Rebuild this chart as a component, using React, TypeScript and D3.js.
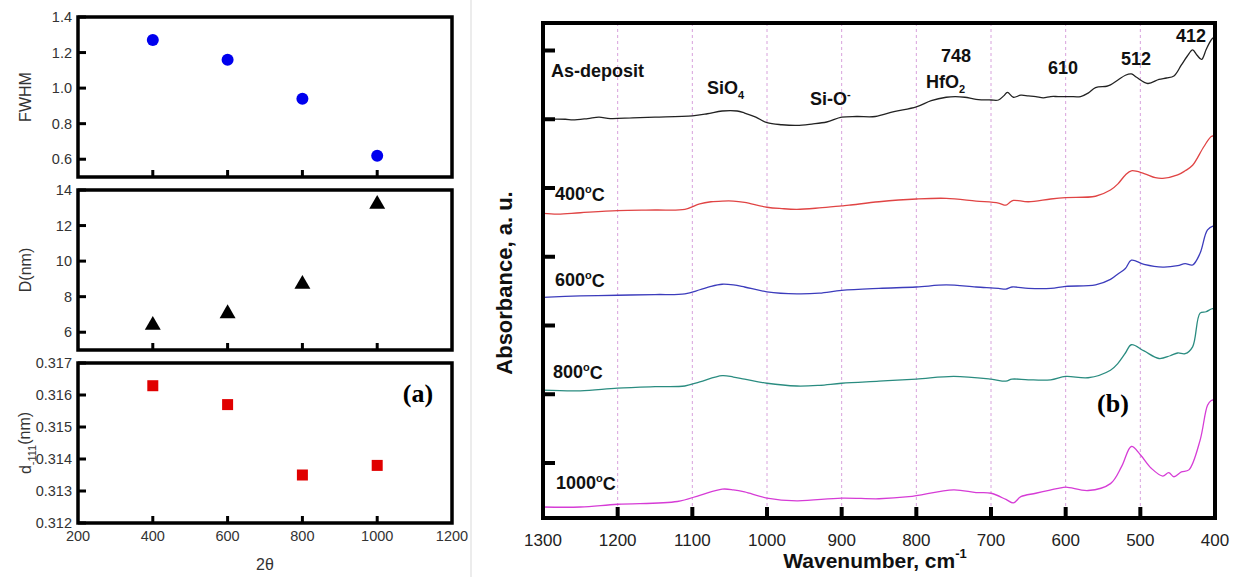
import React from 'react';
import * as d3 from 'd3';

// ---- data: panel (a) ----
const twoTheta = [400, 600, 800, 1000];
const fwhm = [1.27, 1.16, 0.94, 0.62];
const crystalD = [6.4, 7.05, 8.7, 13.2];
const dSpacing = [0.31629, 0.3157, 0.3135, 0.3138];

const leftXTicks = [200, 400, 600, 800, 1000, 1200];
const fwhmTicks = [0.6, 0.8, 1.0, 1.2, 1.4];
const dTicks = [6, 8, 10, 12, 14];
const spacingTicks = [0.312, 0.313, 0.314, 0.315, 0.316, 0.317];

// ---- data: panel (b) FTIR spectra [wavenumber, absorbance] ----
const asDeposit: [number, number][] = [
  [1300, 6.0], [1270, 6.0], [1260, 5.99], [1240, 6.01], [1225, 6.03], [1210, 6.01], [1180, 6.02],
  [1150, 6.03], [1100, 6.05], [1080, 6.08], [1060, 6.12], [1040, 6.12], [1030, 6.09], [1015, 6.03],
  [1000, 5.95], [980, 5.92], [960, 5.91], [940, 5.93], [920, 5.96], [900, 6.03], [880, 6.04],
  [855, 6.04], [830, 6.11], [800, 6.18], [780, 6.27], [760, 6.32], [748, 6.33], [735, 6.32],
  [720, 6.29], [700, 6.28], [690, 6.28], [683, 6.34], [678, 6.39], [670, 6.32], [660, 6.35],
  [650, 6.34], [640, 6.33], [630, 6.31], [620, 6.33], [610, 6.33], [595, 6.33], [580, 6.33],
  [570, 6.38], [560, 6.46], [545, 6.48], [540, 6.5], [530, 6.57], [520, 6.64], [512, 6.66],
  [505, 6.61], [490, 6.52], [475, 6.58], [465, 6.6], [455, 6.63], [445, 6.79], [437, 6.92],
  [430, 7.01], [424, 6.93], [418, 6.87], [412, 7.01], [408, 7.1], [403, 7.18], [400, 7.18],
];
const t400: [number, number][] = [
  [1300, 4.63], [1280, 4.62], [1250, 4.64], [1200, 4.67], [1150, 4.68], [1110, 4.69], [1090, 4.77],
  [1075, 4.8], [1060, 4.81], [1045, 4.81], [1030, 4.79], [1000, 4.72], [980, 4.7], [960, 4.69],
  [930, 4.71], [900, 4.74], [890, 4.75], [850, 4.8], [800, 4.84], [760, 4.85], [720, 4.81],
  [690, 4.78], [680, 4.75], [675, 4.79], [670, 4.82], [650, 4.8], [620, 4.84], [600, 4.86],
  [560, 4.88], [540, 4.97], [530, 5.06], [520, 5.19], [512, 5.25], [495, 5.21], [480, 5.15],
  [470, 5.14], [450, 5.19], [440, 5.25], [430, 5.33], [415, 5.6], [405, 5.75], [400, 5.76],
];
const t600: [number, number][] = [
  [1300, 3.41], [1250, 3.43], [1200, 3.44], [1150, 3.45], [1110, 3.46], [1090, 3.52], [1075, 3.57],
  [1060, 3.6], [1045, 3.59], [1030, 3.56], [1000, 3.49], [960, 3.46], [930, 3.47], [900, 3.51],
  [850, 3.54], [800, 3.56], [760, 3.59], [720, 3.56], [690, 3.54], [680, 3.53], [672, 3.56],
  [650, 3.54], [620, 3.54], [600, 3.57], [560, 3.59], [540, 3.67], [530, 3.75], [520, 3.83],
  [512, 3.95], [495, 3.89], [470, 3.85], [450, 3.87], [440, 3.9], [430, 3.88], [420, 4.05],
  [410, 4.39], [400, 4.46],
];
const t800: [number, number][] = [
  [1300, 2.06], [1250, 2.05], [1200, 2.09], [1150, 2.11], [1110, 2.12], [1090, 2.18], [1060, 2.27],
  [1045, 2.25], [1030, 2.22], [1000, 2.16], [960, 2.12], [930, 2.13], [900, 2.16], [850, 2.19],
  [800, 2.22], [750, 2.26], [700, 2.22], [680, 2.19], [672, 2.22], [650, 2.21], [620, 2.21],
  [600, 2.26], [570, 2.24], [540, 2.35], [530, 2.45], [520, 2.6], [512, 2.72], [495, 2.63],
  [475, 2.52], [460, 2.56], [450, 2.6], [440, 2.59], [430, 2.69], [420, 3.18], [412, 3.2],
  [405, 3.24], [400, 3.25],
];
const t1000: [number, number][] = [
  [1300, 0.36], [1250, 0.36], [1200, 0.4], [1120, 0.44], [1090, 0.53], [1060, 0.62], [1045, 0.61],
  [1030, 0.58], [1000, 0.49], [960, 0.45], [900, 0.49], [850, 0.48], [810, 0.51], [750, 0.61],
  [720, 0.57], [700, 0.56], [680, 0.47], [670, 0.42], [660, 0.51], [640, 0.56], [610, 0.63],
  [600, 0.65], [570, 0.6], [540, 0.7], [525, 0.95], [512, 1.24], [500, 1.12], [485, 0.92],
  [470, 0.81], [462, 0.86], [455, 0.8], [445, 0.87], [435, 0.9], [420, 1.33], [410, 1.84],
  [405, 1.91], [400, 1.92],
];

const spectra = [
  { name: 'As-deposit', data: asDeposit, color: '#222222' },
  { name: '400°C', data: t400, color: '#e04444' },
  { name: '600°C', data: t600, color: '#3c3cbc' },
  { name: '800°C', data: t800, color: '#2a8c80' },
  { name: '1000°C', data: t1000, color: '#d63cd6' },
];

const waveTicks = [1300, 1200, 1100, 1000, 900, 800, 700, 600, 500, 400];
const absTicks = [1, 2, 3, 4, 5, 6, 7];

const leftFont = '"Liberation Sans", Arial, sans-serif';

type SubProps = {
  top: number;
  bottom: number;
  domain: [number, number];
  ticks: number[];
  fmt: (v: number) => string;
  values: number[];
  label: React.ReactNode;
  marker: 'circle' | 'triangle' | 'square';
  showX: boolean;
};

const xA = d3.scaleLinear().domain([200, 1200]).range([78, 452]);

function SubPlot({ top, bottom, domain, ticks, fmt, values, label, marker, showX }: SubProps) {
  const y = d3.scaleLinear().domain(domain).range([bottom, top]);
  const tri = d3.symbol().type(d3.symbolTriangle).size(110)();
  const mid = (top + bottom) / 2;
  return (
    <g>
      <rect x={78} y={top} width={374} height={bottom - top} fill="none" stroke="#000" strokeWidth={3.5} />
      {ticks.map((t) => (
        <g key={t}>
          <line x1={78} x2={86} y1={y(t)} y2={y(t)} stroke="#000" strokeWidth={3} />
          <text x={72} y={y(t)} dy="0.35em" textAnchor="end" fontSize={14.5} fill="#333" fontFamily={leftFont}>
            {fmt(t)}
          </text>
        </g>
      ))}
      {twoTheta.map((t) => (
        <line key={t} x1={xA(t)} x2={xA(t)} y1={bottom} y2={bottom - 7} stroke="#000" strokeWidth={3} />
      ))}
      {showX &&
        leftXTicks.map((t) => (
          <text key={t} x={xA(t)} y={541} textAnchor="middle" fontSize={14.5} fill="#333" fontFamily={leftFont}>
            {t}
          </text>
        ))}
      {values.map((v, i) => {
        const cx = xA(twoTheta[i]);
        const cy = y(v);
        if (marker === 'circle') return <circle key={i} cx={cx} cy={cy} r={6} fill="#0000ee" />;
        if (marker === 'triangle') return <path key={i} d={tri || ''} transform={`translate(${cx},${cy})`} fill="#000" />;
        return <rect key={i} x={cx - 5.5} y={cy - 5.5} width={11} height={11} fill="#e00000" />;
      })}
      <text
        transform={`translate(31,${mid}) rotate(-90)`}
        textAnchor="middle"
        fontSize={16}
        fill="#333"
        fontFamily={leftFont}
      >
        {label}
      </text>
    </g>
  );
}

export default function App() {
  const x = d3.scaleLinear().domain([1300, 400]).range([543, 1215]);
  const y = d3.scaleLinear().domain([0.2, 7.4]).range([518, 23]);
  const line = d3
    .line<[number, number]>()
    .x((d) => x(d[0]))
    .y((d) => y(d[1]))
    .curve(d3.curveCatmullRom.alpha(0.5));

  const labelFont = '"Liberation Sans", Arial, sans-serif';
  const anno = { fontSize: 18, fontWeight: 700, fontFamily: labelFont, fill: '#111' } as const;
  const degLabel = (name: string, lx: number, ly: number) => {
    const [num] = name.split('°');
    return (
      <text key={name} x={lx} y={ly} dy="0.35em" {...anno}>
        {num}
        <tspan fontSize={11} dy="-0.7em">o</tspan>
        <tspan dy="0.45em">C</tspan>
      </text>
    );
  };

  return (
    <svg width={1241} height={577} style={{ position: 'absolute', left: 0, top: 0, background: '#fff' }}>
      <rect width={1241} height={577} fill="#fff" />
      {/* panel (a) */}
      <SubPlot
        top={17}
        bottom={177}
        domain={[0.5, 1.4]}
        ticks={fwhmTicks}
        fmt={d3.format('.1f')}
        values={fwhm}
        label="FWHM"
        marker="circle"
        showX={false}
      />
      <SubPlot
        top={190}
        bottom={350}
        domain={[5, 14]}
        ticks={dTicks}
        fmt={d3.format('d')}
        values={crystalD}
        label="D(nm)"
        marker="triangle"
        showX={false}
      />
      <SubPlot
        top={363}
        bottom={523}
        domain={[0.312, 0.317]}
        ticks={spacingTicks}
        fmt={d3.format('.3f')}
        values={dSpacing}
        label={
          <>
            d<tspan fontSize={11} dy="0.45em">-111</tspan>
            <tspan dy="-0.35em">(nm)</tspan>
          </>
        }
        marker="square"
        showX={true}
      />
      <text x={265} y={570} textAnchor="middle" fontSize={16} fill="#333" fontFamily={leftFont}>
        2θ
      </text>
      <text x={418} y={402} textAnchor="middle" fontSize={26} fontWeight={700} fontFamily='"Liberation Serif", "Times New Roman", serif'>
        (a)
      </text>
      <line x1={471} x2={471} y1={0} y2={577} stroke="#e6e6e6" strokeWidth={1.5} />

      {/* panel (b) */}
      {waveTicks.slice(1, -1).map((t) => (
        <line key={t} x1={x(t)} x2={x(t)} y1={23} y2={518} stroke="#d8a2dc" strokeWidth={1} strokeDasharray="3,3" />
      ))}
      {spectra.map((s) => (
        <path key={s.name} d={line(s.data) || ''} fill="none" stroke={s.color} strokeWidth={1.3} />
      ))}
      <rect x={543} y={23} width={672} height={495} fill="none" stroke="#000" strokeWidth={4} />
      {absTicks.map((t) => (
        <line key={t} x1={543} x2={555} y1={y(t)} y2={y(t)} stroke="#000" strokeWidth={4} />
      ))}
      {waveTicks.map((t) => (
        <g key={t}>
          <line x1={x(t)} x2={x(t)} y1={518} y2={507} stroke="#000" strokeWidth={4} />
          <text x={x(t)} y={546} textAnchor="middle" fontSize={17} fill="#222" fontFamily={labelFont}>
            {t}
          </text>
        </g>
      ))}
      <text x={875} y={568} textAnchor="middle" fontSize={21} fontWeight={700} fontFamily={labelFont} fill="#111">
        Wavenumber, cm<tspan fontSize={13} dy="-0.75em">-1</tspan>
      </text>
      <text
        transform={`translate(512,283) rotate(-90)`}
        textAnchor="middle"
        fontSize={22}
        fontWeight={700}
        fontFamily={labelFont}
        fill="#111"
      >
        Absorbance, a. u.
      </text>

      <text x={551} y={71} dy="0.35em" {...anno}>As-deposit</text>
      {degLabel('400°C', 555, 194)}
      {degLabel('600°C', 555, 280)}
      {degLabel('800°C', 553, 372)}
      {degLabel('1000°C', 556, 483)}

      <text x={707} y={88} dy="0.35em" {...anno}>
        SiO<tspan fontSize={11} dy="0.4em">4</tspan>
      </text>
      <text x={810} y={99} dy="0.35em" {...anno}>
        Si-O<tspan fontSize={11} dy="-0.7em">-</tspan>
      </text>
      <text x={941} y={56} dy="0.35em" {...anno}>748</text>
      <text x={926} y={82} dy="0.35em" {...anno}>
        HfO<tspan fontSize={11} dy="0.4em">2</tspan>
      </text>
      <text x={1048} y={68} dy="0.35em" {...anno}>610</text>
      <text x={1121} y={59} dy="0.35em" {...anno}>512</text>
      <text x={1176} y={36} dy="0.35em" {...anno}>412</text>
      <text x={1113} y={412} textAnchor="middle" fontSize={26} fontWeight={700} fontFamily='"Liberation Serif", "Times New Roman", serif'>
        (b)
      </text>
    </svg>
  );
}
